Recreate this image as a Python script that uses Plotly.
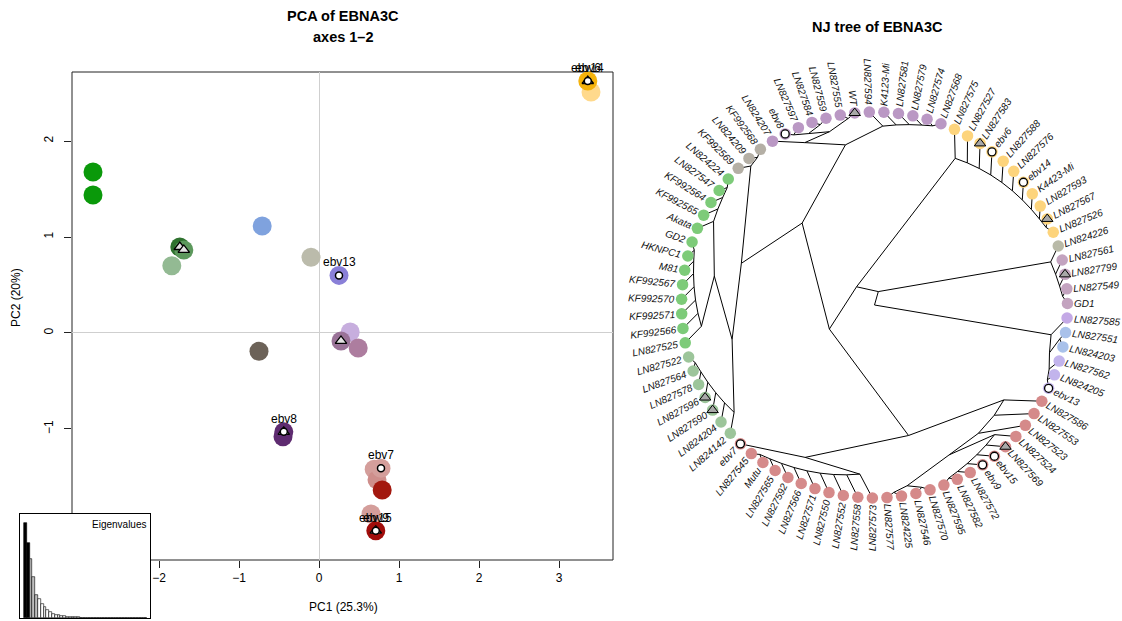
import math
import plotly.graph_objects as go

W, H = 1122, 621
FONT = "Liberation Sans, Arial, Helvetica, sans-serif"

# ------------------------------------------------------------------ PCA data
pca_x = [-2.825, -2.825, -1.84, -1.74, -1.69, -0.71, -0.10, 0.25, 0.39, 0.49, 0.275,
         -0.75, -0.45, -0.44, 0.69, 0.725, 0.775, 0.79, 0.65, 0.71, 3.40, 3.36]
pca_y = [1.677, 1.4375, 0.70, 0.896, 0.865, 1.115, 0.79, 0.60, 0.01, -0.156, -0.083,
         -0.19, -1.08, -1.03, -1.42, -1.53, -1.41, -1.635, -1.885, -2.06, 2.51, 2.625]
pca_col = ['#0A990A', '#0A990A', '#93BA93', '#2F722F', '#5C985C', '#7FA2DE', '#BBBBAB',
           '#8A80D8', '#C7AEDE', '#AD7D9F', '#9A7398', '#6C6258', '#5E2B70', '#5E2B70',
           '#D49E9B', '#CE8E8B', '#D49E9B', '#A3180F', '#D49E9B', '#A00D0B', '#FFD98C', '#F5B30C']
pca_tri_idx = [3, 4, 10, 13, 19, 21]
pca_circ_idx = [7, 13, 16, 19, 21]
pca_lab_names = ['ebv13', 'ebv8', 'ebv7', 'ebv9', 'ebv15', 'ebv6', 'ebv14']
pca_lab_idx = [7, 13, 16, 19, 19, 21, 21]
pc1_label = "PC1 (25.3%)"
pc2_label = "PC2 (20%)"
pca_xticks = [-2, -1, 0, 1, 2, 3]
pca_yticks = [-1, 0, 1, 2]
eig = [350, 277, 218, 152, 85, 70, 52, 40, 30, 22, 15, 12, 10, 8, 6, 5, 4, 3, 2.5, 2,
       1.8, 1.5, 1.3, 1.1, 1.0, 0.9, 0.8, 0.7, 0.6, 0.55, 0.5, 0.45, 0.4, 0.35, 0.3,
       0.28, 0.25, 0.22, 0.2, 0.18, 0.15, 0.12, 0.1, 0.08]
eig_black = 2
eig_grey = 3

# ------------------------------------------------------------------ tree data
tree_newick = (
    "(((((("
    "(LN827586,(LN827553,(LN827523,((LN827524,(LN827569,(ebv15,(ebv9,(LN827572,(LN827582,LN827595)))))),"
    "((LN827570,LN827546),(LN824225,LN827577)))))),"
    "((LN827573,(LN827558,(LN827552,(LN827550,(LN827571,(LN827566,(LN827592,(LN827565,(Mutu,LN827545))))))))),ebv7)),"
    "((((LN824142,(LN824204,(LN827590,(LN827596,(LN827578,(LN827564,LN827522)))))),"
    "((LN827525,(KF992566,(KF992571,(KF992570,(KF992567,(M81,(HKNPC1,GD2))))))),"
    "(Akata,(KF992565,(KF992564,(LN827547,LN824224)))))),"
    "(KF992569,(LN824209,KF992568))),"
    "((LN824207,(((ebv8,LN827597),(LN827584,LN827559)),(LN827555,WT))),"
    "(LN827594,(K4123-Mi,(LN827581,(LN827579,(LN827574,LN827568))))))))),"
    "(LN827575,(LN827527,(LN827583,(ebv6,(LN827588,(LN827576,(ebv14,(K4423-Mi,(LN827593,(LN827567,LN827526))))))))))),"
    "(LN824226,(LN827561,(LN827799,(LN827549,GD1))))),"
    "(LN827585,((LN827551,LN824203),(LN827562,(LN824205,ebv13)))));"
)
first_tip_angle = -29.9   # degrees, angle of the first tip in Newick order (clockwise)

grp_colors = {
    'red': '#D58A8A', 'sage': '#9CC59A', 'green': '#7DCB79', 'grey': '#B4AFA5',
    'mauve': '#BA98C4', 'yellow': '#FDD47C', 'olive': '#B9BAA8', 'pink': '#C3A3BF',
    'lav': '#C4A9E6', 'blue': '#A9C1EA', 'lav2': '#C2B4EC',
}
grp_members = {
    'red': ['ebv7', 'LN827545', 'Mutu', 'LN827565', 'LN827592', 'LN827566', 'LN827571',
            'LN827550', 'LN827552', 'LN827558', 'LN827573', 'LN827577', 'LN824225',
            'LN827546', 'LN827570', 'LN827595', 'LN827582', 'LN827572', 'ebv9', 'ebv15',
            'LN827569', 'LN827524', 'LN827523', 'LN827553', 'LN827586'],
    'sage': ['LN824142', 'LN824204', 'LN827590', 'LN827596', 'LN827578', 'LN827564', 'LN827522'],
    'green': ['LN827525', 'KF992566', 'KF992571', 'KF992570', 'KF992567', 'M81', 'HKNPC1',
              'GD2', 'Akata', 'KF992565', 'KF992564', 'LN827547', 'LN824224'],
    'grey': ['KF992569', 'LN824209', 'KF992568'],
    'mauve': ['LN824207', 'ebv8', 'LN827597', 'LN827584', 'LN827559', 'LN827555', 'WT',
              'LN827594', 'K4123-Mi', 'LN827581', 'LN827579', 'LN827574', 'LN827568'],
    'yellow': ['LN827575', 'LN827527', 'LN827583', 'ebv6', 'LN827588', 'LN827576', 'ebv14',
               'K4423-Mi', 'LN827593', 'LN827567', 'LN827526'],
    'olive': ['LN824226'],
    'pink': ['LN827561', 'LN827799', 'LN827549', 'GD1'],
    'lav': ['LN827585'],
    'blue': ['LN827551', 'LN824203'],
    'lav2': ['LN827562', 'LN824205', 'ebv13'],
}
tree_circles = ['ebv7', 'ebv9', 'ebv15', 'ebv8', 'ebv6', 'ebv14', 'ebv13']
tree_triangles = ['WT', 'LN827583', 'LN827567', 'LN827799', 'LN827569', 'LN827596', 'LN827590']

# ------------------------------------------------------------------ layout constants (pixels)
PCA_L, PCA_R, PCA_T, PCA_B = 72, 613, 72, 560
PCA_XR = [-3.0875, 3.675]
PCA_YR = [-2.365, 2.719]
INS_L, INS_R, INS_T, INS_B = 20, 150, 514, 618
T_CX, T_CY, T_R = 874.5, 305.0, 193.0
T_X0, T_X1, T_Y0, T_Y1 = 625, 1122, 45, 621


def px(xp):
    return xp / W


def py(yp):
    return 1 - yp / H


# ------------------------------------------------------------------ tree parsing / radial layout
def parse_newick(s):
    s = s.strip().rstrip(';')
    pos = [0]

    def node():
        if s[pos[0]] == '(':
            pos[0] += 1
            ch = [node()]
            while s[pos[0]] == ',':
                pos[0] += 1
                ch.append(node())
            pos[0] += 1
            return ch
        st = pos[0]
        while pos[0] < len(s) and s[pos[0]] not in ',()':
            pos[0] += 1
        return s[st:pos[0]].strip()
    return node()


def count_tips(n):
    return 1 if isinstance(n, str) else sum(count_tips(c) for c in n)


tree = parse_newick(tree_newick)
NT = count_tips(tree)
step = 360.0 / NT
tips = []
ex, ey = [], []
counter = [0]


def lay(n):
    if isinstance(n, str):
        th = first_tip_angle - counter[0] * step
        counter[0] += 1
        tips.append((n, th))
        return th, 1, 1.0
    res = [lay(c) for c in n]
    k = sum(r[1] for r in res)
    th = sum(r[0] for r in res) / len(res)
    r = 1 - k / NT
    x0, y0 = r * math.cos(math.radians(th)), r * math.sin(math.radians(th))
    for cth, ck, cr in res:
        ex.extend([x0, cr * math.cos(math.radians(cth)), None])
        ey.extend([y0, cr * math.sin(math.radians(cth)), None])
    return th, k, r


lay(tree)

tip_color = {}
for g, mem in grp_members.items():
    for m in mem:
        tip_color[m] = grp_colors[g]

HELV = {'L': .556, 'N': .722, 'K': .667, 'F': .611, 'M': .833, 'W': .944, 'T': .611,
        'G': .778, 'D': .722, 'H': .722, 'P': .667, 'C': .722, 'A': .667, 'e': .556,
        'b': .556, 'v': .5, 'k': .5, 'a': .556, 't': .278, 'u': .556, 'i': .222, '-': .333}


def text_w(s, size):
    return sum(HELV.get(c, .556) for c in s) * size


fig = go.Figure()

# ------------------------------------------------------------------ PCA traces
fig.add_trace(go.Scatter(x=pca_x, y=pca_y, mode='markers', xaxis='x', yaxis='y',
                         marker=dict(size=19, color=pca_col, line=dict(width=0)),
                         hoverinfo='skip', showlegend=False, cliponaxis=False))
fig.add_trace(go.Scatter(x=[pca_x[i] for i in pca_tri_idx], y=[pca_y[i] for i in pca_tri_idx],
                         mode='markers', xaxis='x', yaxis='y',
                         marker=dict(symbol='triangle-up', size=10, color='#E4E4E4',
                                     line=dict(width=1.3, color='black')),
                         hoverinfo='skip', showlegend=False, cliponaxis=False))
fig.add_trace(go.Scatter(x=[pca_x[i] for i in pca_circ_idx], y=[pca_y[i] for i in pca_circ_idx],
                         mode='markers', xaxis='x', yaxis='y',
                         marker=dict(symbol='circle', size=7, color='white',
                                     line=dict(width=1.5, color='black')),
                         hoverinfo='skip', showlegend=False, cliponaxis=False))

annotations = []
for name, i in zip(pca_lab_names, pca_lab_idx):
    annotations.append(dict(x=pca_x[i], y=pca_y[i], xref='x', yref='y', text=name,
                            xanchor='center', yanchor='middle',
                            showarrow=False, yshift=13, font=dict(size=12, color='black', family=FONT)))

# ------------------------------------------------------------------ eigenvalue inset
eig_cols = ['black' if i < eig_black else ('#BEBEBE' if i < eig_black + eig_grey else 'white')
            for i in range(len(eig))]
fig.add_trace(go.Bar(x=list(range(1, len(eig) + 1)), y=eig, xaxis='x3', yaxis='y3', width=1,
                     marker=dict(color=eig_cols, line=dict(color='black', width=0.6)),
                     hoverinfo='skip', showlegend=False))

# ------------------------------------------------------------------ tree traces
fig.add_trace(go.Scatter(x=ex, y=ey, mode='lines', xaxis='x2', yaxis='y2',
                         line=dict(color='black', width=1), hoverinfo='skip',
                         showlegend=False, cliponaxis=False))
tx = [math.cos(math.radians(t)) for _, t in tips]
ty = [math.sin(math.radians(t)) for _, t in tips]
fig.add_trace(go.Scatter(x=tx, y=ty, mode='markers', xaxis='x2', yaxis='y2',
                         marker=dict(size=11.5, color=[tip_color[n] for n, _ in tips], line=dict(width=0)),
                         hoverinfo='skip', showlegend=False, cliponaxis=False))
ci = [i for i, (n, _) in enumerate(tips) if n in tree_circles]
fig.add_trace(go.Scatter(x=[tx[i] for i in ci], y=[ty[i] for i in ci], mode='markers',
                         xaxis='x2', yaxis='y2',
                         marker=dict(size=8, color='white', line=dict(width=1.3, color='black')),
                         hoverinfo='skip', showlegend=False, cliponaxis=False))
tri = [i for i, (n, _) in enumerate(tips) if n in tree_triangles]
fig.add_trace(go.Scatter(x=[tx[i] for i in tri], y=[ty[i] for i in tri], mode='markers',
                         xaxis='x2', yaxis='y2',
                         marker=dict(symbol='triangle-up', size=10, color='#A8A8A8',
                                     line=dict(width=1, color='black')),
                         hoverinfo='skip', showlegend=False, cliponaxis=False))

LAB_SIZE = 10
LAB_GAP = 7
for n, t in tips:
    w = text_w(n, LAB_SIZE)
    rc = 1 + (LAB_GAP + w / 2) / T_R
    tn = ((t + 180) % 360) - 180
    if -90 < tn <= 90:
        ang = -tn
    else:
        ang = 180 - tn
    ang = ((ang + 180) % 360) - 180
    annotations.append(dict(x=rc * math.cos(math.radians(t)), y=rc * math.sin(math.radians(t)),
                            xref='x2', yref='y2', text=n, showarrow=False, textangle=ang,
                            xanchor='center', yanchor='middle', borderpad=0,
                            font=dict(size=LAB_SIZE, color='#111111', family=FONT, style='italic')))


# ------------------------------------------------------------------ titles & axis titles
def pap(xp, yp, text, size, angle=0, xa='center', ya='middle'):
    return dict(x=px(xp), y=py(yp), xref='paper', yref='paper', text=text, textangle=angle,
                xanchor=xa, yanchor=ya, showarrow=False,
                font=dict(size=size, family=FONT, color='black'))


annotations += [
    pap(343, 16, '<b>PCA of EBNA3C</b>', 14.5),
    pap(343, 37, '<b>axes 1\u20132</b>', 14.5),
    pap(878, 27, '<b>NJ tree of EBNA3C</b>', 14.5),
    pap(343, 607, pc1_label, 12),
    pap(16, 297, pc2_label, 12, angle=-90),
    pap(INS_R - 2, INS_T + 3, 'Eigenvalues', 10, xa='right', ya='top'),
]

# PCA frame (stops at the eigenvalue inset)
frame = dict(type='line', xref='paper', yref='paper', line=dict(color='#222222', width=1), layer='below')
shapes = [
    dict(frame, x0=px(PCA_L), x1=px(PCA_R), y0=py(PCA_T), y1=py(PCA_T)),
    dict(frame, x0=px(PCA_R), x1=px(PCA_R), y0=py(PCA_T), y1=py(PCA_B)),
    dict(frame, x0=px(INS_R), x1=px(PCA_R), y0=py(PCA_B), y1=py(PCA_B)),
    dict(frame, x0=px(PCA_L), x1=px(PCA_L), y0=py(PCA_T), y1=py(INS_T)),
]

common_ax = dict(showgrid=False, showline=False, zeroline=True, zerolinecolor='#CFCFCF',
                 zerolinewidth=1, ticks='outside', ticklen=7, tickwidth=1, tickcolor='#222222',
                 tickfont=dict(size=12, family=FONT, color='black'), tickmode='array')
hidden = dict(visible=False, showgrid=False, zeroline=False)
inset_ax = dict(showgrid=False, zeroline=False, showline=True, mirror=True, linecolor='black',
                linewidth=1, ticks='', showticklabels=False)

fig.update_layout(
    width=W, height=H, margin=dict(l=0, r=0, t=0, b=0),
    paper_bgcolor='white', plot_bgcolor='white', template='none',
    font=dict(family=FONT, color='black'),
    showlegend=False,
    xaxis=dict(common_ax, domain=[px(PCA_L), px(PCA_R)], range=PCA_XR, tickvals=pca_xticks,
               ticktext=['\u22122', '\u22121', '0', '1', '2', '3'], anchor='y'),
    yaxis=dict(common_ax, domain=[py(PCA_B), py(PCA_T)], range=PCA_YR, tickvals=pca_yticks,
               ticktext=['\u22121', '0', '1', '2'], tickangle=-90, anchor='x',
               ticklabelstandoff=6),
    xaxis2=dict(hidden, domain=[px(T_X0), px(T_X1)],
                range=[(T_X0 - T_CX) / T_R, (T_X1 - T_CX) / T_R], anchor='y2'),
    yaxis2=dict(hidden, domain=[py(T_Y1), py(T_Y0)],
                range=[(T_CY - T_Y1) / T_R, (T_CY - T_Y0) / T_R], anchor='x2'),
    xaxis3=dict(inset_ax, domain=[px(INS_L), px(INS_R)], range=[-0.9, len(eig) + 1.5], anchor='y3'),
    yaxis3=dict(inset_ax, domain=[py(INS_B), py(INS_T)], range=[0, 385], anchor='x3'),
    bargap=0,
    annotations=annotations,
    shapes=shapes,
)

fig.write_html("out.html")
